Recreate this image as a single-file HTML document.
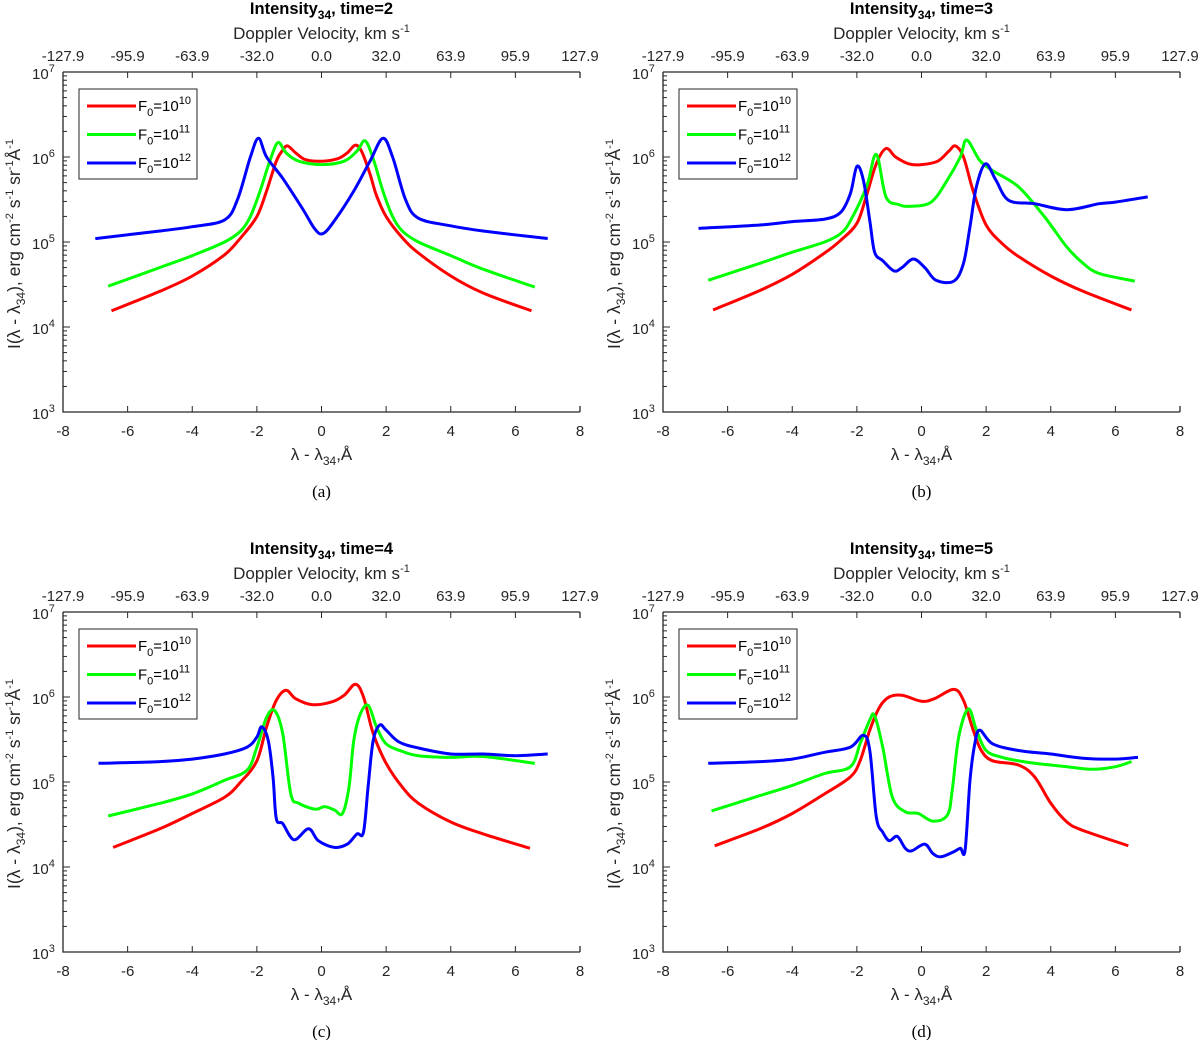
<!DOCTYPE html>
<html><head><meta charset="utf-8">
<style>
html,body{margin:0;padding:0;background:#fff;}
svg{display:block;font-family:"Liberation Sans",sans-serif;}
</style></head>
<body>
<svg id="fig" width="1200" height="1040" viewBox="0 0 1200 1040" xmlns="http://www.w3.org/2000/svg"></svg>
<script>
const times = [2, 3, 4, 5];
const captions = ["(a)", "(b)", "(c)", "(d)"];
const xTicks = [-8, -6, -4, -2, 0, 2, 4, 6, 8];
const velTickLabels = ["-127.9", "-95.9", "-63.9", "-32.0", "0.0", "32.0", "63.9", "95.9", "127.9"];
const yDecades = [3, 4, 5, 6, 7];
const seriesNames = ["F0=1e10", "F0=1e11", "F0=1e12"];
const seriesExp = ["10", "11", "12"];
const seriesColors = ["#ff0000", "#00ff00", "#0000ff"];
// [lambda offset (Å), log10 intensity]
const redA = [[-6.5,4.19],[-5,4.42],[-4,4.6],[-3,4.85],[-2.5,5.05],[-2,5.3],[-1.7,5.6],[-1.4,5.95],[-1.2,6.08],[-1.05,6.13],[-0.8,6.05],[-0.5,5.97],[0,5.95],[0.5,5.98],[0.8,6.05],[1.05,6.14],[1.25,6.06],[1.5,5.8],[1.7,5.55],[2,5.3],[2.5,5.05],[3,4.87],[4,4.6],[5,4.4],[6.5,4.19]];
const greenA = [[-6.6,4.48],[-5,4.7],[-4,4.84],[-3,5.0],[-2.5,5.13],[-2.2,5.3],[-1.9,5.6],[-1.6,5.95],[-1.35,6.17],[-1.1,6.05],[-0.7,5.95],[0,5.91],[0.7,5.95],[1.1,6.07],[1.35,6.19],[1.6,5.98],[1.9,5.6],[2.2,5.3],[2.5,5.13],[3,5.0],[4,4.84],[5,4.68],[6.6,4.47]];
const blueA = [[-7,5.04],[-5,5.13],[-4,5.18],[-3,5.26],[-2.6,5.5],[-2.2,6.0],[-1.95,6.22],[-1.7,6.0],[-1.2,5.75],[-0.6,5.4],[-0.2,5.15],[0.05,5.1],[0.4,5.25],[1.0,5.6],[1.5,5.95],[1.9,6.22],[2.2,6.0],[2.6,5.5],[3,5.28],[4,5.19],[5,5.13],[7,5.04]];
const redB = [[-6.45,4.2],[-5,4.43],[-4,4.62],[-3,4.87],[-2.5,5.02],[-2,5.22],[-1.7,5.55],[-1.4,5.92],[-1.1,6.1],[-0.8,6.0],[-0.4,5.92],[0,5.91],[0.5,5.95],[0.85,6.07],[1.05,6.13],[1.3,6.0],[1.6,5.6],[2,5.2],[2.5,4.98],[3,4.83],[4,4.6],[5,4.42],[6.5,4.2]];
const greenB = [[-6.6,4.55],[-5,4.75],[-4,4.88],[-3,5.0],[-2.5,5.1],[-2.2,5.25],[-1.7,5.65],[-1.4,6.03],[-1.1,5.53],[-0.7,5.44],[-0.35,5.42],[0.3,5.47],[0.8,5.73],[1.2,6.0],[1.4,6.2],[1.8,5.96],[2.2,5.84],[3,5.65],[3.8,5.3],[4.5,4.94],[5,4.75],[5.5,4.63],[6.6,4.54]];
const blueB = [[-6.9,5.16],[-5,5.2],[-4,5.24],[-3,5.27],[-2.5,5.35],[-2.2,5.57],[-2.0,5.89],[-1.8,5.73],[-1.6,5.25],[-1.45,4.88],[-1.2,4.78],[-0.85,4.66],[-0.6,4.7],[-0.25,4.8],[0.1,4.7],[0.45,4.55],[1.0,4.54],[1.3,4.75],[1.5,5.18],[1.7,5.65],[1.98,5.92],[2.3,5.73],[2.7,5.49],[3.5,5.45],[4.5,5.38],[5.5,5.45],[6.0,5.47],[7.0,5.53]];
const redC = [[-6.45,4.23],[-5,4.45],[-4,4.63],[-3,4.82],[-2.5,5.0],[-2,5.25],[-1.7,5.65],[-1.4,5.96],[-1.1,6.08],[-0.8,5.98],[-0.3,5.91],[0.3,5.94],[0.7,6.02],[1.05,6.15],[1.3,6.0],[1.6,5.57],[2.0,5.22],[2.5,4.94],[3,4.75],[4,4.53],[5,4.39],[6.45,4.22]];
const greenC = [[-6.6,4.6],[-5,4.75],[-4,4.86],[-3,5.02],[-2.3,5.14],[-2.0,5.41],[-1.7,5.76],[-1.45,5.84],[-1.2,5.57],[-0.95,4.86],[-0.7,4.75],[-0.2,4.68],[0.1,4.71],[0.4,4.67],[0.65,4.63],[0.85,4.94],[1.0,5.49],[1.2,5.8],[1.45,5.9],[1.7,5.65],[2.0,5.45],[2.5,5.36],[3.0,5.31],[4,5.29],[5,5.3],[6.6,5.22]];
const blueC = [[-6.9,5.22],[-5,5.24],[-4,5.27],[-3,5.33],[-2.3,5.41],[-2.0,5.53],[-1.85,5.65],[-1.65,5.49],[-1.5,5.06],[-1.4,4.57],[-1.2,4.51],[-0.85,4.32],[-0.4,4.45],[-0.1,4.31],[0.4,4.23],[0.8,4.27],[1.1,4.39],[1.3,4.41],[1.45,4.98],[1.6,5.49],[1.8,5.67],[2.0,5.61],[2.4,5.47],[3,5.4],[4,5.33],[5,5.33],[6,5.31],[7,5.33]];
const redD = [[-6.4,4.25],[-5,4.45],[-4,4.63],[-3,4.86],[-2.2,5.06],[-1.9,5.25],[-1.6,5.61],[-1.3,5.88],[-1.0,6.0],[-0.6,6.02],[0,5.95],[0.4,5.98],[1.0,6.09],[1.3,5.96],[1.6,5.61],[1.85,5.37],[2.2,5.25],[3.0,5.2],[3.5,5.06],[4.0,4.75],[4.5,4.53],[5.0,4.43],[6.4,4.25]];
const greenD = [[-6.5,4.66],[-5,4.84],[-4,4.96],[-3,5.1],[-2.2,5.18],[-1.9,5.45],[-1.6,5.73],[-1.45,5.78],[-1.2,5.41],[-0.9,4.82],[-0.5,4.65],[-0.1,4.63],[0.35,4.54],[0.8,4.61],[0.95,4.9],[1.15,5.53],[1.45,5.86],[1.7,5.61],[2.0,5.37],[2.5,5.29],[3.0,5.25],[3.5,5.22],[4.5,5.18],[5.3,5.15],[6,5.18],[6.5,5.24]];
const blueD = [[-6.6,5.22],[-5,5.24],[-4,5.27],[-3,5.35],[-2.2,5.41],[-1.8,5.55],[-1.6,5.37],[-1.4,4.59],[-1.2,4.41],[-1.0,4.31],[-0.75,4.36],[-0.5,4.22],[-0.3,4.19],[0.1,4.27],[0.35,4.16],[0.6,4.12],[1.0,4.18],[1.2,4.22],[1.35,4.2],[1.5,5.02],[1.65,5.45],[1.8,5.61],[2.2,5.45],[3,5.37],[4,5.33],[5,5.28],[6,5.27],[6.7,5.29]];
const panelSeries = [[redA, greenA, blueA],[redB, greenB, blueB],[redC, greenC, blueC],[redD, greenD, blueD]];

const NS = "http://www.w3.org/2000/svg";
const svg = document.getElementById('fig');
function mk(tag, attrs, parent, text) {
  const e = document.createElementNS(NS, tag);
  for (const k in attrs) e.setAttribute(k, attrs[k]);
  if (text !== undefined) e.textContent = text;
  (parent || svg).appendChild(e);
  return e;
}
function smoothPath(pts) {
  let d = "M" + pts[0][0].toFixed(1) + "," + pts[0][1].toFixed(1);
  for (let i = 0; i < pts.length - 1; i++) {
    const p0 = pts[Math.max(0, i - 1)], p1 = pts[i], p2 = pts[i + 1], p3 = pts[Math.min(pts.length - 1, i + 2)];
    const c1x = p1[0] + (p2[0] - p0[0]) / 6, c1y = p1[1] + (p2[1] - p0[1]) / 6;
    const c2x = p2[0] - (p3[0] - p1[0]) / 6, c2y = p2[1] - (p3[1] - p1[1]) / 6;
    d += " C" + c1x.toFixed(1) + "," + c1y.toFixed(1) + " " + c2x.toFixed(1) + "," + c2y.toFixed(1) + " " + p2[0].toFixed(1) + "," + p2[1].toFixed(1);
  }
  return d;
}

const layouts = [
  {L:63, R:580, T:72, B:412, off:0},
  {L:663, R:1180, T:72, B:412, off:0},
  {L:63, R:580, T:612, B:952, off:540},
  {L:663, R:1180, T:612, B:952, off:540}
];

layouts.forEach((lay, pi) => {
  const g = mk('g', {});
  
  
  const xs = v => lay.L + (v + 8) / 16 * (lay.R - lay.L);
  const ys = l => lay.B - (l - 3) / 4 * (lay.B - lay.T);
  const cx = (lay.L + lay.R) / 2;
  const axes = mk('path', {d:`M${lay.L},${lay.T} L${lay.L},${lay.B} L${lay.R},${lay.B} M${lay.L},${lay.T} L${lay.R},${lay.T} M${lay.R},${lay.T} v6 M${lay.R},${lay.B} v-6`, stroke:'#262626', 'stroke-width':1.3, fill:'none'}, g);
  
  
  xTicks.forEach((t, i) => {
    const x = xs(t);
    mk('line', {x1:x, x2:x, y1:lay.B, y2:lay.B - 6, stroke:'#262626', 'stroke-width':1}, g);
    mk('line', {x1:x, x2:x, y1:lay.T, y2:lay.T + 6, stroke:'#262626', 'stroke-width':1}, g);
    const tl = mk('text', {x:x, y:lay.B + 24, 'font-size':15, 'text-anchor':'middle', fill:'#262626'}, g, String(t));
    
    
    const vl = mk('text', {x:x, y:lay.T - 11, 'font-size':15, 'text-anchor':'middle', fill:'#262626'}, g, velTickLabels[i]);
    
    
  });
  yDecades.forEach(dcd => {
    const y = ys(dcd);
    mk('line', {x1:lay.L, x2:lay.L + 7, y1:y, y2:y, stroke:'#262626', 'stroke-width':1}, g);
    const tl = mk('text', {x:lay.L - 31, y:y + 7, 'font-size':15, fill:'#262626'}, g);
    
    
    mk('tspan', {}, tl, '10');
    mk('tspan', {dy:-7, 'font-size':11}, tl, String(dcd));
    if (dcd < 7) for (let m = 2; m <= 9; m++) {
      const ym = ys(dcd + Math.log10(m));
      mk('line', {x1:lay.L, x2:lay.L + 4, y1:ym, y2:ym, stroke:'#262626', 'stroke-width':1}, g);
    }
  });
  const title = mk('text', {x:cx, y:lay.off + 14, 'font-size':16.5, 'font-weight':'bold', 'text-anchor':'middle', fill:'#000'}, g);
  
  
  mk('tspan', {}, title, 'Intensity');
  mk('tspan', {dy:5, 'font-size':12}, title, '34');
  mk('tspan', {dy:-5}, title, ', time=' + times[pi]);
  const dop = mk('text', {x:cx, y:lay.off + 39, 'font-size':17, 'text-anchor':'middle', fill:'#262626'}, g);
  
  
  mk('tspan', {}, dop, 'Doppler Velocity, km s');
  mk('tspan', {dy:-7, 'font-size':11}, dop, '-1');
  const xl = mk('text', {x:cx, y:lay.B + 48, 'font-size':17, 'text-anchor':'middle', fill:'#262626'}, g);
  
  
  mk('tspan', {}, xl, 'λ - λ');
  mk('tspan', {dy:5, 'font-size':12}, xl, '34');
  mk('tspan', {dy:-5}, xl, ',Å');
  const yl = mk('text', {transform:`translate(${lay.L - 43},${(lay.T + lay.B) / 2 + 2}) rotate(-90)`, 'font-size':17.5, 'text-anchor':'middle', fill:'#262626'}, g);
  
  
  mk('tspan', {}, yl, 'I(λ - λ');
  mk('tspan', {dy:5, 'font-size':12}, yl, '34');
  mk('tspan', {dy:-5}, yl, '), erg cm');
  mk('tspan', {dy:-7, 'font-size':11}, yl, '-2');
  mk('tspan', {dy:7}, yl, ' s');
  mk('tspan', {dy:-7, 'font-size':11}, yl, '-1');
  mk('tspan', {dy:7}, yl, ' sr');
  mk('tspan', {dy:-7, 'font-size':11}, yl, '-1');
  mk('tspan', {dy:7}, yl, 'Å');
  mk('tspan', {dy:-7, 'font-size':11}, yl, '-1');
  const cap = mk('text', {x:cx, y:lay.off + 497, 'font-size':17, 'font-family':'"Liberation Serif",serif', 'text-anchor':'middle', fill:'#000'}, g, captions[pi]);
  
  
  panelSeries[pi].forEach((ser, si) => {
    const pts = ser.map(p => [xs(p[0]), ys(p[1])]);
    const path = mk('path', {d:smoothPath(pts), stroke:seriesColors[si], 'stroke-width':3, fill:'none', 'stroke-linejoin':'round', 'stroke-linecap':'butt'}, g);
    
    
  });
  const lg = mk('g', {}, g);
  
  
  const lt = lay.T + 17;
  mk('rect', {x:lay.L + 16, y:lt, width:118, height:90, fill:'#fff', stroke:'#262626', 'stroke-width':1}, lg);
  seriesNames.forEach((n, si) => {
    const y = lt + 17 + si * 28.5;
    const le = mk('g', {}, lg);
    
    
    mk('line', {x1:lay.L + 24, x2:lay.L + 73, y1:y, y2:y, stroke:seriesColors[si], 'stroke-width':3}, le);
    const t = mk('text', {x:lay.L + 75, y:y + 5, 'font-size':15, fill:'#000'}, le);
    mk('tspan', {}, t, 'F');
    mk('tspan', {dy:5, 'font-size':11}, t, '0');
    mk('tspan', {dy:-5}, t, '=10');
    mk('tspan', {dy:-7, 'font-size':11}, t, seriesExp[si]);
  });
});
</script>
</body></html>
